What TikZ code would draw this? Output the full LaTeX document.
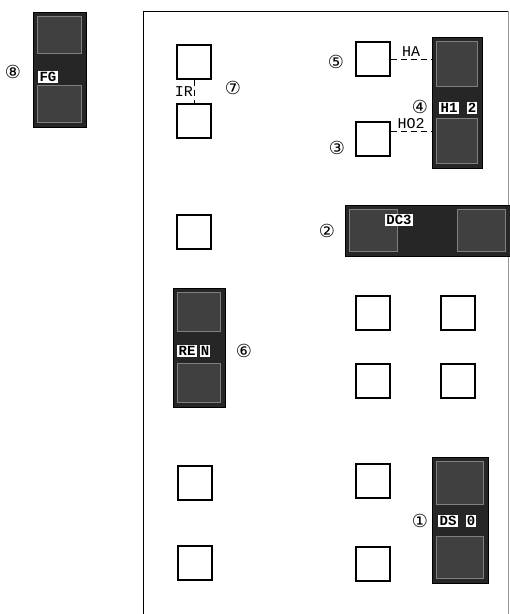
\documentclass[tikz,border=0pt]{standalone}
\usepackage{fontspec}
\setmonofont{Liberation Mono}
\newfontfamily\circfont{DejaVu Sans}
\usetikzlibrary{positioning,calc}

\begin{document}
\begin{tikzpicture}[
    x=1pt, y=-1pt,
    cell/.style={draw, line width=1.2pt, minimum size=34pt, inner sep=0pt},
    module/.style={draw, fill=black!85, line width=1pt, inner sep=0pt},
    slot/.style={draw=black!50, fill=black!75, line width=1pt},
    tag/.style={fill=white, text=black, font=\ttfamily\bfseries\fontsize{14}{14}\selectfont, inner sep=1.2pt},
    wire/.style={dashed, line width=1pt, dash pattern=on 6pt off 4pt},
    wlabel/.style={font=\ttfamily\fontsize{15}{15}\selectfont, inner sep=1pt},
    num/.style={font=\circfont\fontsize{18}{18}\selectfont, inner sep=0pt},
  ]
    \useasboundingbox (0,0) rectangle (510,614);
    % panel frame
    \draw[line width=1pt] (143,614) -- (143,11) -- (508,11);
    \draw[line width=0.4pt, black!40] (508,11) -- (508,614);

    % white units, left column
    \node[cell] (l1) at (194,62) {};
    \node[cell] (l2) at (194,121) {};
    \node[cell] (l3) at (194,232) {};
    \node[cell] (l4) at (195,483) {};
    \node[cell] (l5) at (195,563) {};
    % white units, right side
    \node[cell] (r5) at (373,59) {};
    \node[cell] (r3) at (373,139) {};
    \node[cell] (a1) at (373,313) {};
    \node[cell] (b1) at (458,313) {};
    \node[cell] (a2) at (373,381) {};
    \node[cell] (b2) at (458,381) {};
    \node[cell] (a3) at (373,481) {};
    \node[cell] (a4) at (373,564) {};

    % dark modules
    \node[module, minimum width=53pt, minimum height=115pt] (m8) at (59.5,69.5) {};
    \node[module, minimum width=50pt, minimum height=131pt] (m4) at (457,102.5) {};
    \node[module, minimum width=165pt, minimum height=51pt] (m2) at (427.5,230.5) {};
    \node[module, minimum width=52pt, minimum height=119pt] (m6) at (199,347.5) {};
    \node[module, minimum width=56pt, minimum height=126pt] (m1) at (460,520) {};
    \foreach \m in {m8,m4,m6,m1} {
      \draw[slot] ([shift={(5,5)}]\m.north west) rectangle ([shift={(-5,-16)}]\m.east);
      \draw[slot] ([shift={(5,16)}]\m.west) rectangle ([shift={(-5,-5)}]\m.south east);
    }
    \draw[slot] ([shift={(5,5)}]m2.north west) rectangle ([shift={(-30,-5)}]m2.south);
    \draw[slot] ([shift={(30,5)}]m2.north) rectangle ([shift={(-5,-5)}]m2.south east);

    % module tags
    \node[tag] (fg) at (48,77) {FG};
    \node[tag] (h1) at (449,108) {H1};
    \node[tag] (h2) at (472,108) {2};
    \node[tag] (dc) at (399,220) {DC3};
    \node[tag] (re) at (187,351) {RE};
    \node[tag] (rn) at (205,351) {N};
    \node[tag] (ds) at (448,521) {DS};
    \node[tag] (d0) at (471,521) {0};

    % dashed links
    \draw[wire] (l1.south) -- (l2.north);
    \coordinate (irm) at ($(l1.south)!0.5!(l2.north)$);
    \node[wlabel, left=0pt of irm] (ir) {IR};
    \coordinate (ha) at (r5.east -| m4.west);
    \coordinate (ham) at ($(r5.east)!0.5!(ha)$);
    \draw[wire] (r5.east) -- (ha);
    \node[wlabel, above=1pt of ham] (hal) {HA};
    \coordinate (hs) at ([yshift=8]r3.east);
    \coordinate (ho) at (hs -| m4.west);
    \coordinate (hom) at ($(hs)!0.5!(ho)$);
    \draw[wire] (hs) -- (ho);
    \node[wlabel, above=1pt of hom] (hol) {HO2};

    % numbering
    \node[num] (n1) at (420,521) {①};
    \node[num] (n2) at (327,231) {②};
    \node[num] (n3) at (337,148) {③};
    \node[num] (n4) at (420,107) {④};
    \node[num] (n5) at (336,62) {⑤};
    \node[num] (n6) at (244,351) {⑥};
    \node[num] (n7) at (233,88) {⑦};
    \node[num] (n8) at (13,72) {⑧};
  \end{tikzpicture}
\end{document}
